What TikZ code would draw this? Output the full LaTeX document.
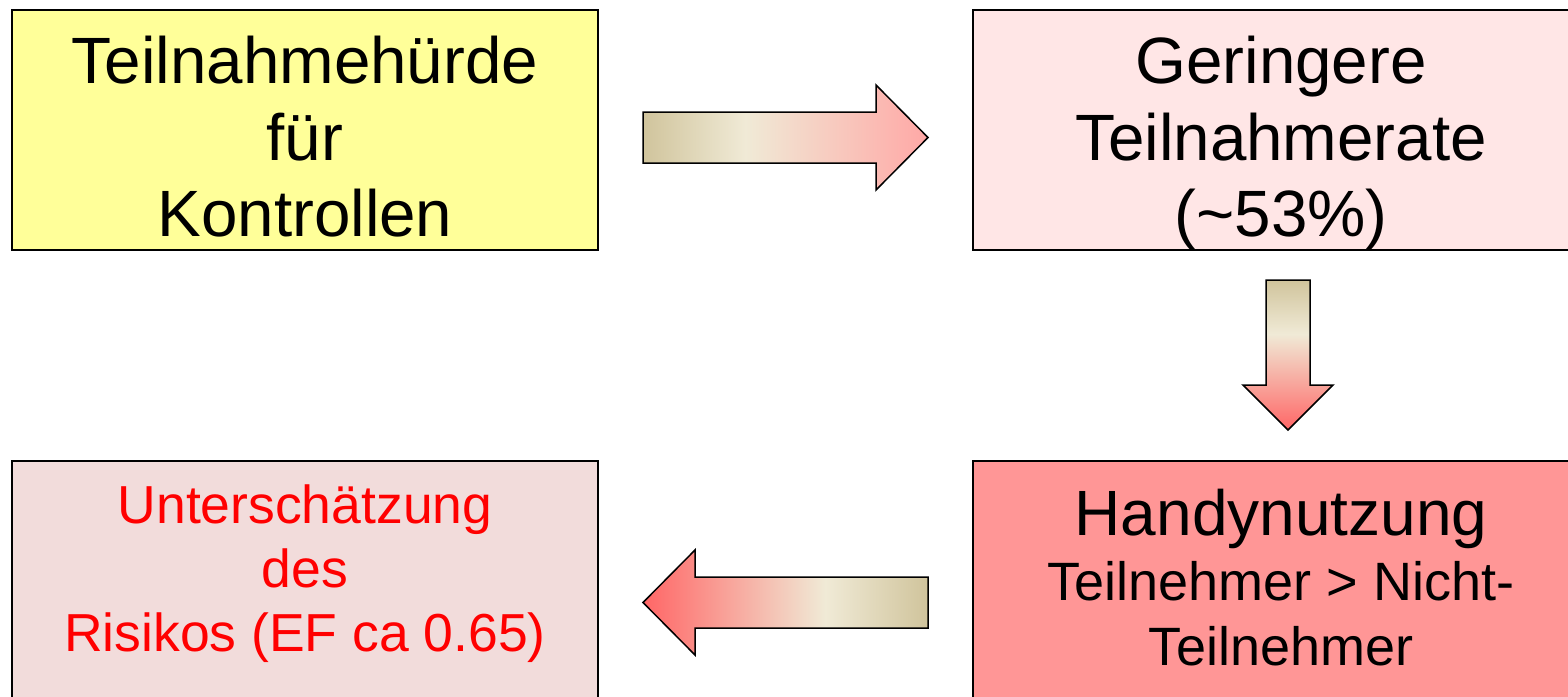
\documentclass[tikz,border=0pt]{standalone}
\usepackage{fontspec}
\setmainfont{Liberation Sans}
\definecolor{tanc}{RGB}{208,196,156}
\definecolor{creamc}{RGB}{240,234,214}
\definecolor{pinkc}{RGB}{255,168,166}
\definecolor{redc}{RGB}{255,102,102}
\definecolor{yelbox}{RGB}{255,255,153}
\definecolor{pinkbox}{RGB}{255,230,230}
\definecolor{greybox}{RGB}{242,220,219}
\definecolor{redbox}{RGB}{255,150,150}
\pgfdeclarehorizontalshading{arrlight}{100bp}{color(0bp)=(tanc); color(25bp)=(tanc); color(43bp)=(creamc); color(75bp)=(pinkc); color(100bp)=(pinkc)}
\pgfdeclarehorizontalshading{arrdark}{100bp}{color(0bp)=(tanc); color(25bp)=(tanc); color(43bp)=(creamc); color(75bp)=(redc); color(100bp)=(redc)}
\tikzset{
  boxnode/.style={draw=black, line width=1.3pt, minimum width=586pt, minimum height=240pt, inner sep=0pt},
  widebox/.style={boxnode, minimum width=616pt},
  bigtxt/.style={anchor=base, inner sep=0pt, font=\fontsize{65.5}{76}\selectfont},
  smalltxt/.style={anchor=base, inner sep=0pt, font=\fontsize{53.5}{64}\selectfont},
  blockarrow/.style={draw=black, line width=1.5pt, line join=miter},
}
\begin{document}
\begin{tikzpicture}[x=1pt, y=-1pt]
\useasboundingbox (0,0) rectangle (1568,696);
\fill[white] (0,0) rectangle (1568,696);
% boxes
\node[boxnode, fill=yelbox] (b1) at (305,130) {};
\node[widebox, fill=pinkbox] (b2) at (1281,130) {};
\node[boxnode, fill=greybox] (b3) at (305,581) {};
\node[widebox, fill=redbox] (b4) at (1281,581) {};
% texts
\node[bigtxt] (t1a) at (305,83) {Teilnahmehürde};
\node[bigtxt] (t1b) at (305,160) {für};
\node[bigtxt] (t1c) at (305,236) {Kontrollen};
\node[bigtxt] (t2a) at (1281,83) {Geringere};
\node[bigtxt] (t2b) at (1281,160) {Teilnahmerate};
\node[bigtxt] (t2c) at (1281,236) {(\char"7E 53\%)};
\node[smalltxt, text=red] (t3a) at (305,523) {Unterschätzung};
\node[smalltxt, text=red] (t3b) at (305,587) {des};
\node[smalltxt, text=red] (t3c) at (305,651) {Risikos (EF ca 0.65)};
\node[bigtxt, font=\fontsize{64}{76}\selectfont] (t4a) at (1281,535) {Handynutzung};
\node[smalltxt, font=\fontsize{54}{64}\selectfont] (t4b) at (1281,600) {Teilnehmer > Nicht-};
\node[smalltxt, font=\fontsize{54}{64}\selectfont] (t4c) at (1281,665) {Teilnehmer};
% block arrows
\coordinate (r0) at (643,112);
\path[blockarrow, shading=arrlight]
  (r0) -- (876,112) -- (876,85) -- (928,137.5) -- (876,190) -- (876,163) -- (643,163) -- cycle;
\coordinate (d0) at (1266,280);
\path[blockarrow, shading=arrdark, shading angle=270]
  (d0) -- (1310,280) -- (1310,385) -- (1333,385) -- (1288,430) -- (1243,385) -- (1266,385) -- cycle;
\coordinate (l0) at (928,577);
\path[blockarrow, shading=arrdark, shading angle=180]
  (l0) -- (928,628) -- (695,628) -- (695,655) -- (643,602.5) -- (695,550) -- (695,577) -- cycle;
\end{tikzpicture}
\end{document}
